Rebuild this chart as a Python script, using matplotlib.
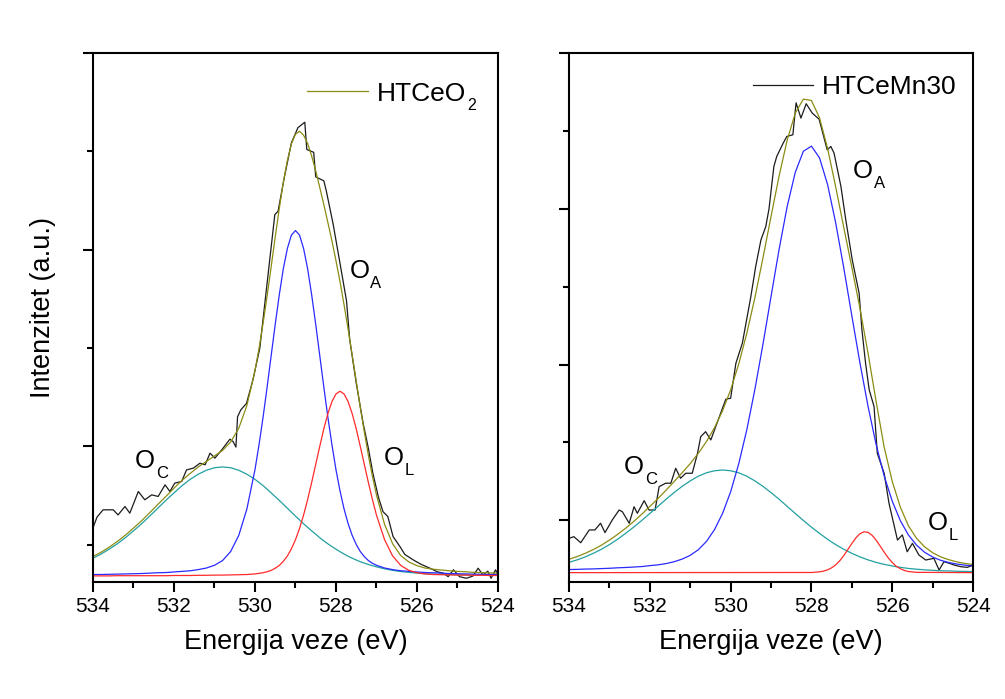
import matplotlib
matplotlib.use('Agg')
import matplotlib.pyplot as plt
from matplotlib.ticker import MultipleLocator, NullFormatter, FormatStrFormatter

plt.rcParams['font.family'] = ['Liberation Sans', 'DejaVu Sans']

# ---------------- data ----------------
# Left panel: HTCeO2 (energy sampling of the fitted curves)
ceo2_e = [534.0, 533.8, 533.6, 533.4, 533.2, 533.0, 532.8, 532.6, 532.4, 532.2,
          532.0, 531.8, 531.6, 531.4, 531.2, 531.0, 530.8, 530.6, 530.4, 530.2,
          530.0, 529.9, 529.8, 529.7, 529.6, 529.5, 529.4, 529.3, 529.2, 529.1,
          529.0, 528.9, 528.8, 528.7, 528.6, 528.5, 528.4, 528.3, 528.2, 528.1,
          528.0, 527.9, 527.8, 527.7, 527.6, 527.5, 527.4, 527.3, 527.2, 527.1,
          527.0, 526.8, 526.6, 526.4, 526.2, 526.0, 525.8, 525.6, 525.4, 525.2,
          525.0, 524.8, 524.6, 524.4, 524.2, 524.0]
ceo2_oc = [0.431, 0.452, 0.477, 0.504, 0.535, 0.570, 0.606, 0.645, 0.685, 0.725,
           0.763, 0.800, 0.832, 0.858, 0.878, 0.891, 0.895, 0.891, 0.878, 0.858,
           0.832, 0.816, 0.800, 0.782, 0.763, 0.744, 0.725, 0.705, 0.685, 0.665,
           0.645, 0.626, 0.606, 0.588, 0.570, 0.553, 0.535, 0.519, 0.504, 0.490,
           0.477, 0.464, 0.452, 0.441, 0.431, 0.422, 0.413, 0.406, 0.399, 0.393,
           0.387, 0.377, 0.369, 0.363, 0.359, 0.355, 0.352, 0.350, 0.349, 0.348,
           0.347, 0.346, 0.345, 0.345, 0.345, 0.344]
ceo2_oa = [0.348, 0.348, 0.349, 0.350, 0.351, 0.352, 0.353, 0.355, 0.357, 0.358,
           0.361, 0.364, 0.367, 0.373, 0.381, 0.395, 0.419, 0.465, 0.547, 0.681,
           0.881, 1.008, 1.148, 1.301, 1.461, 1.620, 1.770, 1.903, 2.006, 2.074,
           2.097, 2.074, 2.006, 1.903, 1.770, 1.620, 1.461, 1.301, 1.148, 1.008,
           0.881, 0.773, 0.681, 0.607, 0.547, 0.501, 0.465, 0.439, 0.419, 0.405,
           0.395, 0.381, 0.373, 0.367, 0.364, 0.361, 0.358, 0.357, 0.355, 0.353,
           0.352, 0.351, 0.350, 0.349, 0.348, 0.348]
ceo2_ol = [0.341, 0.341, 0.341, 0.342, 0.342, 0.342, 0.342, 0.342, 0.342, 0.342,
           0.343, 0.343, 0.343, 0.344, 0.344, 0.345, 0.345, 0.346, 0.347, 0.348,
           0.351, 0.354, 0.357, 0.362, 0.369, 0.380, 0.394, 0.415, 0.442, 0.479,
           0.525, 0.582, 0.650, 0.729, 0.816, 0.908, 1.000, 1.089, 1.166, 1.227,
           1.266, 1.280, 1.266, 1.227, 1.166, 1.089, 1.000, 0.908, 0.816, 0.729,
           0.650, 0.525, 0.442, 0.394, 0.369, 0.357, 0.351, 0.348, 0.347, 0.346,
           0.345, 0.345, 0.344, 0.344, 0.343, 0.343]
ceo2_fit = [0.440, 0.461, 0.487, 0.516, 0.548, 0.584, 0.621, 0.662, 0.704, 0.745,
            0.787, 0.827, 0.862, 0.895, 0.923, 0.951, 0.979, 1.022, 1.092, 1.207,
            1.384, 1.498, 1.625, 1.765, 1.913, 2.064, 2.209, 2.343, 2.453, 2.538,
            2.587, 2.602, 2.582, 2.540, 2.476, 2.401, 2.316, 2.229, 2.138, 2.045,
            1.944, 1.837, 1.719, 1.595, 1.464, 1.332, 1.198, 1.073, 0.954, 0.847,
            0.752, 0.603, 0.504, 0.444, 0.412, 0.393, 0.381, 0.375, 0.371, 0.367,
            0.364, 0.362, 0.359, 0.358, 0.356, 0.355]
ceo2_raw_e = [534.00, 533.90, 533.75, 533.50, 533.38, 533.21, 533.09, 532.88, 532.72, 532.55,
              532.39, 532.22, 532.10, 531.98, 531.81, 531.69, 531.52, 531.36, 531.23, 531.11,
              530.99, 530.82, 530.62, 530.54, 530.47, 530.43, 530.35, 530.21, 530.05, 529.88,
              529.70, 529.51, 529.43, 529.27, 529.10, 528.94, 528.77, 528.72, 528.55, 528.50,
              528.30, 528.24, 528.07, 527.90, 527.74, 527.66, 527.50, 527.33, 527.20, 527.09,
              526.95, 526.84, 526.72, 526.59, 526.42, 526.30, 526.09, 525.90, 525.68, 525.50,
              525.35, 525.23, 525.10, 524.95, 524.78, 524.62, 524.49, 524.37, 524.25, 524.17,
              524.06, 524.00]
ceo2_raw = [0.585, 0.640, 0.677, 0.677, 0.651, 0.694, 0.660, 0.770, 0.728, 0.753,
            0.745, 0.804, 0.770, 0.813, 0.821, 0.880, 0.889, 0.914, 0.906, 0.965,
            0.940, 0.982, 1.036, 1.024, 0.996, 1.150, 1.185, 1.218, 1.338, 1.500,
            1.830, 2.178, 2.195, 2.373, 2.543, 2.620, 2.648, 2.509, 2.495, 2.370,
            2.350, 2.300, 2.130, 1.930, 1.740, 1.542, 1.322, 1.118, 0.990, 0.864,
            0.740, 0.668, 0.643, 0.541, 0.490, 0.450, 0.422, 0.400, 0.380, 0.362,
            0.355, 0.337, 0.372, 0.337, 0.329, 0.340, 0.380, 0.346, 0.365, 0.329,
            0.372, 0.346]

# Right panel: HTCeMn30
mn30_e = [534.0, 533.8, 533.6, 533.4, 533.2, 533.0, 532.8, 532.6, 532.4, 532.2,
          532.0, 531.8, 531.6, 531.4, 531.2, 531.0, 530.8, 530.6, 530.4, 530.2,
          530.0, 529.8, 529.6, 529.4, 529.2, 529.0, 528.8, 528.6, 528.4, 528.2,
          528.0, 527.8, 527.6, 527.4, 527.2, 527.0, 526.8, 526.6, 526.4, 526.2,
          526.0, 525.8, 525.6, 525.4, 525.2, 525.0, 524.8, 524.6, 524.4, 524.2, 524.0]
mn30_oc = [0.730, 0.746, 0.765, 0.788, 0.814, 0.844, 0.878, 0.916, 0.956, 0.999,
           1.044, 1.089, 1.135, 1.178, 1.218, 1.253, 1.283, 1.305, 1.318, 1.323,
           1.318, 1.305, 1.283, 1.253, 1.218, 1.178, 1.135, 1.089, 1.044, 0.999,
           0.956, 0.916, 0.878, 0.844, 0.814, 0.788, 0.765, 0.746, 0.730, 0.717,
           0.707, 0.698, 0.691, 0.686, 0.682, 0.679, 0.676, 0.675, 0.673, 0.672, 0.671]
mn30_oa = [0.684, 0.685, 0.687, 0.688, 0.690, 0.692, 0.695, 0.697, 0.700, 0.703,
           0.709, 0.714, 0.722, 0.734, 0.751, 0.775, 0.811, 0.864, 0.940, 1.044,
           1.183, 1.362, 1.581, 1.840, 2.130, 2.437, 2.740, 3.015, 3.234, 3.369,
           3.402, 3.327, 3.155, 2.910, 2.621, 2.313, 2.011, 1.733, 1.488, 1.285,
           1.123, 0.998, 0.906, 0.841, 0.795, 0.764, 0.743, 0.729, 0.719, 0.712, 0.707]
mn30_fit = [0.750, 0.767, 0.788, 0.812, 0.840, 0.873, 0.909, 0.949, 0.992, 1.039,
            1.089, 1.139, 1.193, 1.248, 1.305, 1.364, 1.430, 1.505, 1.594, 1.703,
            1.837, 2.003, 2.200, 2.429, 2.684, 2.951, 3.211, 3.441, 3.614, 3.704,
            3.695, 3.584, 3.387, 3.141, 2.880, 2.624, 2.362, 2.074, 1.764, 1.470,
            1.250, 1.085, 0.965, 0.885, 0.830, 0.792, 0.765, 0.747, 0.733, 0.723, 0.716]
mn30_ol_e = [534.0, 528.0, 527.8, 527.7, 527.6, 527.5, 527.4, 527.3, 527.2, 527.1,
             527.0, 526.9, 526.8, 526.7, 526.6, 526.5, 526.4, 526.3, 526.2, 526.1,
             526.0, 525.9, 525.8, 525.7, 525.6, 525.4, 524.0]
mn30_ol = [0.664, 0.665, 0.669, 0.674, 0.682, 0.695, 0.714, 0.740, 0.773, 0.812,
           0.851, 0.887, 0.914, 0.926, 0.923, 0.904, 0.873, 0.835, 0.796, 0.759,
           0.729, 0.705, 0.689, 0.678, 0.671, 0.666, 0.664]
mn30_raw_e = [534.00, 533.88, 533.71, 533.50, 533.36, 533.22, 533.11, 532.93, 532.76, 532.68,
              532.51, 532.39, 532.31, 532.14, 532.02, 531.87, 531.77, 531.61, 531.48, 531.36,
              531.24, 531.11, 530.95, 530.82, 530.74, 530.62, 530.49, 530.37, 530.12, 530.00,
              529.87, 529.71, 529.50, 529.38, 529.25, 529.13, 529.05, 528.93, 528.86, 528.70,
              528.61, 528.46, 528.38, 528.26, 528.13, 527.98, 527.81, 527.61, 527.52, 527.44,
              527.27, 527.15, 526.99, 526.82, 526.75, 526.66, 526.57, 526.45, 526.37, 526.20,
              526.08, 525.87, 525.75, 525.63, 525.50, 525.34, 525.17, 524.97, 524.84, 524.72,
              524.60, 524.47, 524.30, 524.14, 524.00]
mn30_raw = [0.884, 0.895, 0.856, 0.938, 0.938, 0.981, 0.921, 1.002, 1.066, 1.055,
            0.981, 1.087, 1.045, 1.126, 1.066, 1.066, 1.216, 1.238, 1.238, 1.334,
            1.270, 1.302, 1.302, 1.430, 1.537, 1.569, 1.516, 1.601, 1.777, 1.784,
            2.008, 2.137, 2.436, 2.629, 2.800, 2.886, 3.000, 3.271, 3.335, 3.421,
            3.464, 3.475, 3.680, 3.582, 3.674, 3.614, 3.575, 3.378, 3.400, 3.357,
            3.143, 2.929, 2.672, 2.458, 2.222, 2.008, 1.837, 1.730, 1.430, 1.302,
            1.109, 0.873, 0.906, 0.798, 0.852, 0.777, 0.745, 0.756, 0.681, 0.734,
            0.725, 0.713, 0.702, 0.698, 0.713]

x_ticks = [534, 532, 530, 528, 526, 524]
x_label = 'Energija veze (eV)'
y_label = 'Intenzitet (a.u.)'

# ---------------- style ----------------
C_RAW = '#1c1c1c'
C_FIT = '#8c8c14'
C_OA = '#2a2aff'
C_OL = '#ff2a2a'
C_OC = '#22a0a0'
LW = 0.9

fig = plt.figure(figsize=(10.05, 6.99), dpi=100)
fig.patch.set_facecolor('white')
axL = fig.add_axes([0.0925, 0.1674, 0.403, 0.7568])
axR = fig.add_axes([0.5662, 0.1674, 0.402, 0.7568])


def style(ax, ylim):
    ax.set_xlim(534, 524)
    ax.set_ylim(*ylim)
    ax.set_xticks(x_ticks)
    ax.xaxis.set_major_formatter(FormatStrFormatter('%d'))
    ax.xaxis.set_minor_locator(MultipleLocator(1))
    ax.yaxis.set_major_locator(MultipleLocator(1))
    ax.yaxis.set_minor_locator(MultipleLocator(0.5))
    ax.yaxis.set_major_formatter(NullFormatter())
    ax.tick_params(which='both', direction='out', top=False, right=False,
                   width=1.5, colors='black')
    ax.tick_params(which='major', length=7, labelsize=15, pad=4)
    ax.tick_params(which='minor', length=4)
    for s in ax.spines.values():
        s.set_linewidth(1.5)
    ax.set_xlabel(x_label, fontsize=19.5, labelpad=9)


def peak_label(ax, e, v, sub):
    ax.text(e, v, 'O', fontsize=18.5, va='baseline', ha='left')
    ax.annotate(sub, xy=(e, v), xycoords='data', xytext=(15, -7),
                textcoords='offset points', fontsize=12, va='baseline', ha='left')


# Left panel
axL.plot(ceo2_raw_e, ceo2_raw, color=C_RAW, lw=LW)
axL.plot(ceo2_e, ceo2_oc, color=C_OC, lw=LW)
axL.plot(ceo2_e, ceo2_oa, color=C_OA, lw=LW)
axL.plot(ceo2_e, ceo2_ol, color=C_OL, lw=LW)
axL.plot(ceo2_e, ceo2_fit, color=C_FIT, lw=LW)
style(axL, (0.31, 3.0))
axL.plot([0.528, 0.679], [0.9287, 0.9287], transform=axL.transAxes, color=C_FIT, lw=LW)
axL.text(0.7005, 0.9098, 'HTCeO', transform=axL.transAxes, fontsize=19, va='baseline')
axL.annotate('2', xy=(0.7005, 0.9098), xycoords='axes fraction', xytext=(65.5, -6.5),
             textcoords='offset points', fontsize=11.5, va='baseline', ha='left')
peak_label(axL, 532.96, 0.889, 'C')
peak_label(axL, 526.83, 0.906, 'L')
peak_label(axL, 527.67, 1.856, 'A')

# Right panel
axR.plot(mn30_raw_e, mn30_raw, color=C_RAW, lw=LW)
axR.plot(mn30_e, mn30_oc, color=C_OC, lw=LW)
axR.plot(mn30_e, mn30_oa, color=C_OA, lw=LW)
axR.plot(mn30_ol_e, mn30_ol, color=C_OL, lw=LW)
axR.plot(mn30_e, mn30_fit, color=C_FIT, lw=LW)
style(axR, (0.604, 4.0))
axR.plot([0.4554, 0.604], [0.9395, 0.9395], transform=axR.transAxes, color=C_RAW, lw=LW)
axR.text(0.6262, 0.9219, 'HTCeMn30', transform=axR.transAxes, fontsize=19, va='baseline')
peak_label(axR, 532.64, 1.297, 'C')
peak_label(axR, 525.12, 0.938, 'L')
peak_label(axR, 526.98, 3.197, 'A')

fig.text(0.0428, 0.5594, y_label, rotation=90, fontsize=19.5, ha='center', va='center')

fig.savefig('out.png', dpi=100, facecolor='white')
